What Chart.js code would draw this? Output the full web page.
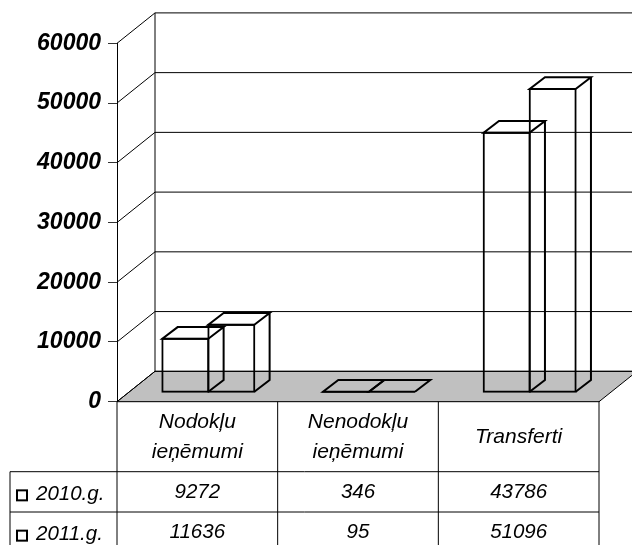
<!DOCTYPE html>
<html>
<head>
<meta charset="utf-8">
<title>Ieņēmumi</title>
<script src="https://cdn.jsdelivr.net/npm/chart.js@4"></script>
<style>
  body { margin: 0; background: #fff; }
  canvas { display: block; }
</style>
</head>
<body>
<canvas id="grafika" width="632" height="545"></canvas>
<script>
const categories = [["Nodokļu", "ieņēmumi"], ["Nenodokļu", "ieņēmumi"], "Transferti"];
const seriesNames = ["2010.g.", "2011.g."];
const values2010 = [9272, 346, 43786];
const values2011 = [11636, 95, 51096];
const valueTicks = [0, 10000, 20000, 30000, 40000, 50000, 60000];

const FONT = "'Liberation Sans', Arial, sans-serif";

// 3D look: how far the back wall and the bars sit behind the front plane
const wall = { x: 38, y: -30.4 };
const barShift = { x: 11, y: -8.5 };
const barDepth = { x: 15.3, y: -11.7 };

// walls, grid lines and floor, all taken from the scales
const walls = {
  id: "walls",
  beforeDatasetsDraw(chart) {
    const { ctx, chartArea: a, scales: { y } } = chart;
    const y0 = y.getPixelForValue(0);
    ctx.save();
    ctx.fillStyle = "#c0c0c0";
    ctx.strokeStyle = "#000";
    ctx.lineWidth = 1;
    ctx.beginPath();
    ctx.moveTo(a.left, y0);
    ctx.lineTo(a.left + wall.x, y0 + wall.y);
    ctx.lineTo(a.right + wall.x, y0 + wall.y);
    ctx.lineTo(a.right, y0);
    ctx.closePath();
    ctx.fill();
    ctx.stroke();
    ctx.beginPath();
    valueTicks.forEach(v => {
      const py = y.getPixelForValue(v);
      ctx.moveTo(a.left, py);
      ctx.lineTo(a.left + wall.x, py + wall.y);
      ctx.lineTo(a.right + wall.x, py + wall.y);
    });
    ctx.moveTo(a.left + wall.x, a.top + wall.y);
    ctx.lineTo(a.left + wall.x, y0 + wall.y);
    ctx.stroke();
    ctx.restore();
  }
};

// bars are drawn by Chart.js, only shifted back; the top and side faces are added here
const boxes = {
  id: "boxes",
  beforeDatasetDraw(chart) {
    chart.ctx.save();
    chart.ctx.translate(barShift.x, barShift.y);
  },
  afterDatasetDraw(chart, args) {
    const ctx = chart.ctx;
    ctx.strokeStyle = "#000";
    ctx.lineWidth = 2;
    ctx.beginPath();
    args.meta.data.forEach(el => {
      const { x, y, base, width } = el.getProps(["x", "y", "base", "width"], true);
      const l = x - width / 2 + 1, r = x + width / 2 - 1;
      const bot = base - 1, top = Math.min(y + 1, bot);
      ctx.moveTo(r, top);
      ctx.lineTo(l, top);
      ctx.lineTo(l + barDepth.x, top + barDepth.y);
      ctx.lineTo(r + barDepth.x, top + barDepth.y);
      ctx.lineTo(r, top);
      ctx.moveTo(r + barDepth.x, top + barDepth.y);
      ctx.lineTo(r + barDepth.x, bot + barDepth.y);
      ctx.lineTo(r, bot);
    });
    ctx.stroke();
    ctx.restore();
  }
};

// data table under the plot
const table = {
  id: "table",
  afterDraw(chart) {
    const { ctx, chartArea: a, scales: { x }, data, height } = chart;
    const step = (a.right - a.left) / categories.length;
    const headBottom = a.bottom + 70;
    const rowH = 40.3;
    const tableLeft = 10;
    ctx.save();
    ctx.strokeStyle = "#000";
    ctx.lineWidth = 1;
    ctx.beginPath();
    for (let i = 0; i <= categories.length; i++) {
      const px = a.left + step * i;
      ctx.moveTo(px, a.bottom);
      ctx.lineTo(px, height);
    }
    ctx.moveTo(tableLeft, headBottom);
    ctx.lineTo(tableLeft, height);
    ctx.moveTo(tableLeft, headBottom);
    ctx.lineTo(a.right, headBottom);
    ctx.moveTo(tableLeft, headBottom + rowH);
    ctx.lineTo(a.right, headBottom + rowH);
    ctx.stroke();

    ctx.fillStyle = "#000";
    ctx.font = "italic 20.5px " + FONT;
    ctx.textBaseline = "middle";
    data.datasets.forEach((ds, r) => {
      const cy = headBottom + rowH * (r + 0.5) + 0.5;
      ctx.lineWidth = 2;
      ctx.strokeRect(17, cy + 3 - 5, 10, 10);
      ctx.textAlign = "left";
      ctx.fillText(ds.label, 36, cy + 1.5);
      ctx.textAlign = "center";
      ds.data.forEach((v, i) => ctx.fillText(String(v), x.getPixelForValue(i), cy));
    });
    ctx.restore();
  }
};

const barStyle = {
  backgroundColor: "transparent",
  borderColor: "#000",
  borderWidth: 2,
  borderSkipped: false,
  barPercentage: 1.043,
  categoryPercentage: 0.5726
};

new Chart(document.getElementById("grafika"), {
  type: "bar",
  data: {
    labels: categories,
    datasets: [
      { label: seriesNames[0], data: values2010, ...barStyle },
      { label: seriesNames[1], data: values2011, ...barStyle }
    ]
  },
  plugins: [walls, boxes, table],
  options: {
    responsive: false,
    animation: false,
    layout: { padding: { top: 43.3, right: 33, left: 0, bottom: 0 } },
    plugins: { legend: { display: false }, title: { display: false }, tooltip: { enabled: false } },
    scales: {
      x: {
        afterFit: s => { s.height = 143.3; },
        grid: { display: false },
        border: { display: true, color: "#000", width: 1 },
        ticks: {
          autoSkip: false,
          maxRotation: 0,
          crossAlign: "center",
          padding: 12,
          color: "#000",
          font: { family: FONT, size: 21, style: "italic", lineHeight: 1.43 }
        }
      },
      y: {
        min: 0,
        max: 60000,
        afterFit: s => { s.width = 117; },
        afterBuildTicks: s => { s.ticks = valueTicks.map(v => ({ value: v })); },
        grid: { drawOnChartArea: false, drawTicks: true, tickLength: 9, color: "#333" },
        border: { display: true, color: "#000", width: 1 },
        ticks: {
          padding: 7,
          color: "#000",
          callback: v => String(v),
          font: { family: FONT, size: 23, weight: "bold", style: "italic" }
        }
      }
    }
  }
});
</script>
</body>
</html>
